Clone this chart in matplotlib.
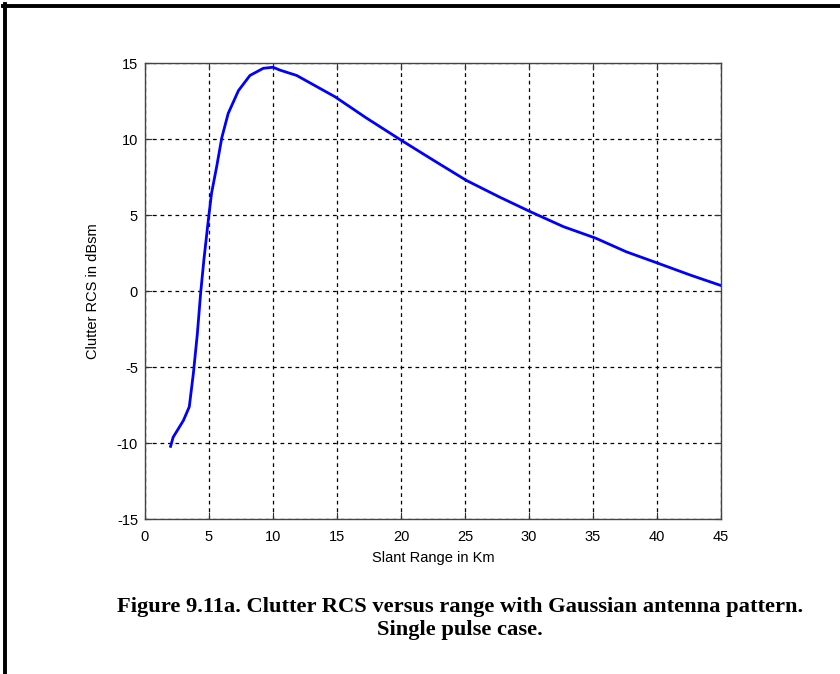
import matplotlib
matplotlib.use("Agg")
import matplotlib.pyplot as plt
from matplotlib.lines import Line2D

# Slant range (km) and clutter RCS (dBsm)
range_km = [2.0, 2.2, 3.0, 3.46, 3.78, 4.09, 4.35, 4.6, 4.95, 5.2, 5.6, 6.0,
            6.5, 7.3, 8.2, 9.24, 10.0, 10.55, 11.85, 14.84, 17.3, 19.9, 22.5,
            25.1, 27.7, 30.1, 32.7, 35.2, 37.6, 40.1, 42.6, 45.0]
rcs_dbsm = [-10.2, -9.6, -8.5, -7.6, -5.4, -2.8, -0.1, 2.06, 4.7, 6.45, 8.2,
            10.1, 11.7, 13.2, 14.2, 14.67, 14.74, 14.55, 14.2, 12.8, 11.4,
            10.0, 8.64, 7.3, 6.2, 5.24, 4.25, 3.5, 2.6, 1.84, 1.07, 0.38]

x_ticks = [0, 5, 10, 15, 20, 25, 30, 35, 40, 45]
y_ticks = [-15, -10, -5, 0, 5, 10, 15]

fig = plt.figure(figsize=(8.4, 6.74), dpi=100)
ax = fig.add_axes([0.1726, 0.2295, 0.6857, 0.6766])

ax.plot(range_km, rcs_dbsm, color="#0000ff", linewidth=2.0)

ax.set_xlim(0, 45)
ax.set_ylim(-15, 15)
ax.set_xticks(x_ticks)
ax.set_yticks(y_ticks)

sans = ["Liberation Sans", "DejaVu Sans"]
ax.set_xticklabels([str(t) for t in x_ticks], family=sans, size=10.5)
ax.set_yticklabels([str(t) for t in y_ticks], family=sans, size=10.5)
ax.tick_params(direction="in", length=5, width=0.8, color="#333333",
               top=True, right=True)
ax.tick_params(axis="x", pad=8)
ax.tick_params(axis="y", pad=5)

ax.grid(True, color="black", linestyle=(0, (3, 3)), linewidth=0.9)
for s in ax.spines.values():
    s.set_color("#444444")
    s.set_linewidth(1.0)

ax.set_xlabel("Slant Range in Km", family=sans, size=10.5, labelpad=5)
ax.set_ylabel("Clutter RCS in dBsm", family=sans, size=10.5, labelpad=12)

cap_font = dict(family=["Liberation Serif", "DejaVu Serif"], weight="bold",
                size=16.2, ha="center", va="center")
fig.text(0.5476, 1 - 607 / 674,
         "Figure 9.11a. Clutter RCS versus range with Gaussian antenna pattern.",
         **cap_font)
fig.text(0.5476, 1 - 630 / 674, "Single pulse case.", **cap_font)

# page frame: left and top rules
fig.add_artist(Line2D([4.5 / 840, 4.5 / 840], [0, 1 - 4 / 674],
                      transform=fig.transFigure, color="black", linewidth=2.8))
fig.add_artist(Line2D([3 / 840, 1], [1 - 5.5 / 674, 1 - 5.5 / 674],
                      transform=fig.transFigure, color="black", linewidth=2.8))

fig.savefig("out.png", dpi=100)
